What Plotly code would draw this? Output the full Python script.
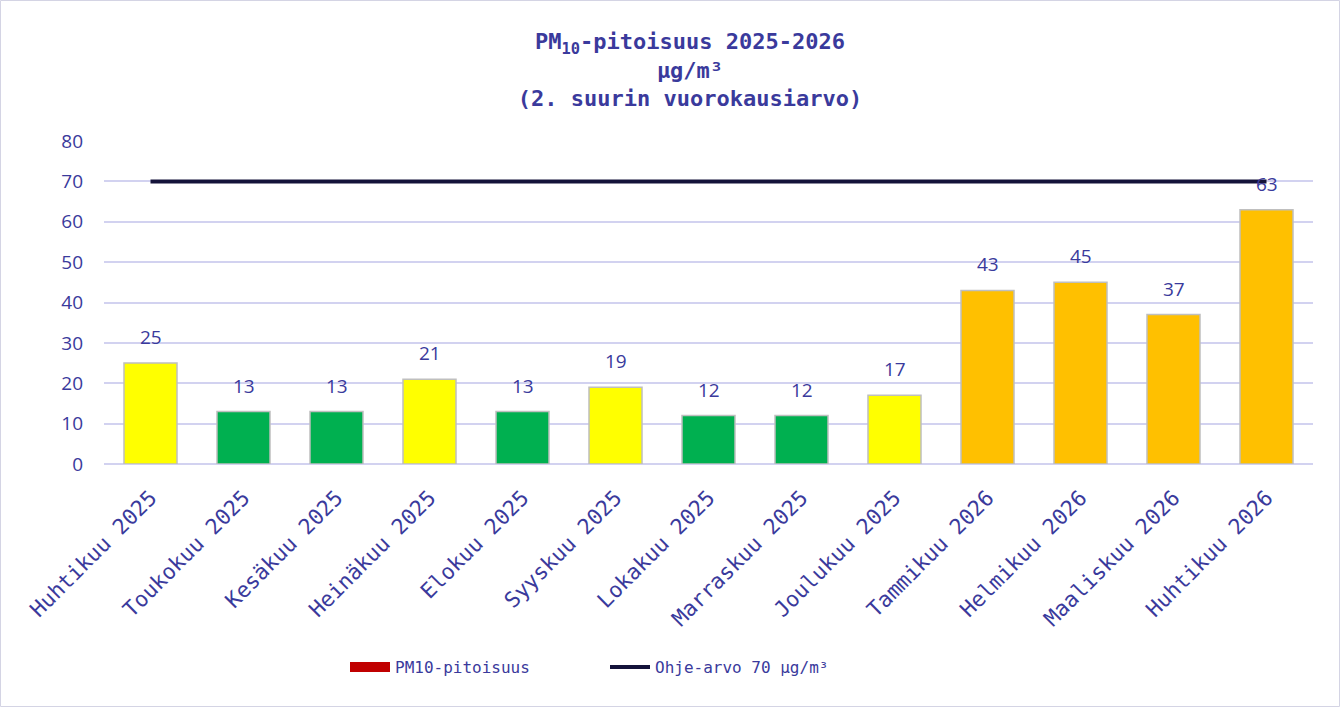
import plotly.graph_objects as go

categories = ["Huhtikuu 2025", "Toukokuu 2025", "Kesäkuu 2025", "Heinäkuu 2025",
              "Elokuu 2025", "Syyskuu 2025", "Lokakuu 2025", "Marraskuu 2025",
              "Joulukuu 2025", "Tammikuu 2026", "Helmikuu 2026", "Maaliskuu 2026",
              "Huhtikuu 2026"]
pm10_values = [25, 13, 13, 21, 13, 19, 12, 12, 17, 43, 45, 37, 63]
bar_colors = ["#FFFF00", "#00B050", "#00B050", "#FFFF00", "#00B050", "#FFFF00",
              "#00B050", "#00B050", "#FFFF00", "#FFC000", "#FFC000", "#FFC000", "#FFC000"]
guide_value = 70
guide_values = [guide_value] * len(categories)
y_ticks = [0, 10, 20, 30, 40, 50, 60, 70, 80]

TXT = "#3A3A9C"
MONO = "DejaVu Sans Mono, Liberation Mono, monospace"
SANS = "Open Sans, Liberation Sans, sans-serif"

W, H = 1341, 707
ML, MR, MT, MB = 104, 28, 141, 243

fig = go.Figure()

fig.add_trace(go.Bar(
    x=categories, y=pm10_values,
    marker=dict(color=bar_colors, line=dict(color="#BFBFBF", width=1.5)),
    showlegend=False, hoverinfo="x+y",
))
# legend-only entry for the bars (drawn as a thick red swatch)
fig.add_trace(go.Scatter(
    x=[None], y=[None], mode="lines", name="PM10-pitoisuus",
    line=dict(color="#C00000", width=12),
    showlegend=True,
))
fig.add_trace(go.Scatter(
    x=categories, y=guide_values, mode="lines",
    name="Ohje-arvo 70 µg/m³",
    line=dict(color="#14133A", width=4),
))

for c, v in zip(categories, pm10_values):
    fig.add_annotation(x=c, y=v, text=str(v), showarrow=False,
                       yshift=26, yanchor="middle",
                       font=dict(family=SANS, size=19, color=TXT))

fig.add_shape(type="rect", xref="paper", yref="paper",
              x0=(-ML + 0.5) / (W - ML - MR), x1=1 + (MR - 1.5) / (W - ML - MR),
              y0=(-MB + 0.5) / (H - MT - MB), y1=1 + (MT - 0.5) / (H - MT - MB),
              line=dict(color="#D4D4E4", width=1), layer="below")

fig.update_layout(
    width=W, height=H,
    margin=dict(l=ML, r=MR, t=MT, b=MB),
    paper_bgcolor="white", plot_bgcolor="white",
    bargap=0.43,
    title=dict(
        text="<b>PM<sub>10</sub>-pitoisuus 2025-2026<br>µg/m³<br>(2. suurin vuorokausiarvo)</b>",
        x=(690 - ML) / (W - ML - MR), xref="paper", xanchor="center",
        yref="container", y=1 - 49 / H, yanchor="top",
        font=dict(family=MONO, size=22, color=TXT),
    ),
    xaxis=dict(
        tickangle=-45, tickfont=dict(family=MONO, size=21.5, color=TXT),
        showgrid=False, showline=False, ticks="", ticklabelstandoff=16,
    ),
    yaxis=dict(
        range=[0, 80], tickvals=y_ticks,
        tickfont=dict(family=SANS, size=19, color=TXT),
        gridcolor="#D2D2F0", gridwidth=1.5,
        zeroline=True, zerolinecolor="#D2D2F0", zerolinewidth=1.5,
        showline=False, ticks="", ticklabelstandoff=20,
    ),
    legend=dict(
        orientation="h", x=(345 - ML) / (W - ML - MR), xanchor="left",
        yref="container", y=1 - 667 / H, yanchor="middle",
        font=dict(family=MONO, size=16, color=TXT),
        entrywidth=205, itemwidth=40,
    ),
)

fig.write_html("out.html", config={"displayModeBar": False},
               post_script="document.body.style.margin='0';")
